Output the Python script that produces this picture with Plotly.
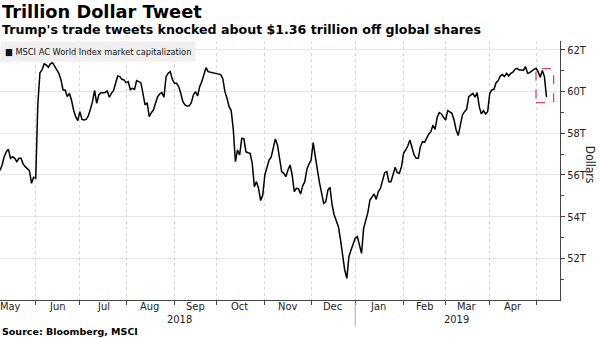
import pandas as pd
import plotly.graph_objects as go

# Trading-day number counted from 1 Jun 2018 (weekdays), and index value in $ trillions
trading_day = [
    -17, -16, -15, -14, -13, -12, -11, -10, -9, -8, -7, -6, -5, -4, -3, -2, -1, 0,
    1, 2, 3, 4, 5, 6, 7, 8, 9, 10, 11, 12, 13, 14, 15, 16, 17, 18, 19, 20,
    21, 22, 23, 24, 25, 26, 27, 28, 29, 30, 31, 32, 33, 34, 35, 36, 37, 38, 39, 40,
    41, 42, 43, 44, 45, 46, 47, 48, 49, 50, 51, 52, 53, 54, 55, 56, 57, 58, 59, 60,
    61, 62, 63, 64, 65, 66, 67, 68, 69, 70, 71, 72, 73, 74, 75, 76, 77, 78, 79, 80,
    81, 82, 83, 85, 86, 88, 89, 90, 91, 92, 93, 94, 95, 96, 97, 98, 99, 100,
    101, 102, 103, 104, 105, 106, 107, 108, 109, 110, 111, 112, 113, 114, 115, 116, 117, 118, 119, 120,
    121, 122, 123, 124, 125, 126, 127, 128, 129, 130, 131, 132, 133, 134, 135, 136, 137, 138, 139, 140,
    141, 142, 143, 144, 145, 146, 147, 148, 149, 150, 151, 152, 153, 154, 155, 156, 157, 158, 159, 160,
    161, 162, 163, 164, 165, 166, 167, 168, 169, 170, 171, 172, 173, 174, 175, 176, 177, 178, 179, 180,
    181, 182, 183, 184, 185, 186, 187, 188, 189, 190, 191, 192, 193, 194, 195, 196, 197, 198, 199, 200,
    201, 202, 203, 204, 205, 206, 207, 208, 209, 210, 211, 212, 213, 214, 215, 216, 217, 218, 219, 220,
    221, 222, 223, 224, 225, 226, 227, 228, 229, 230, 231, 232, 233, 234, 235, 236, 237, 238, 239, 240,
    241, 242, 243,
]
market_cap = [
    56.21, 56.48, 56.88, 57.12, 57.23, 56.80, 56.88, 56.80, 56.64, 56.80, 56.80, 56.53, 56.40, 56.32, 56.21, 55.60, 55.89, 55.85,
    59.40, 60.90, 61.04, 61.33, 61.28, 61.17, 61.33, 61.39, 61.23, 61.07, 60.88, 60.56, 60.08, 60.08, 59.76, 59.92, 59.60, 59.12, 58.80, 58.61,
    59.04, 58.67, 58.64, 58.67, 58.83, 59.15, 59.52, 60.06, 59.44, 59.84, 59.95, 59.95, 59.96, 60.03, 59.73, 59.92, 60.05, 60.40, 60.75, 60.72,
    60.59, 60.56, 60.43, 60.48, 60.10, 60.16, 60.11, 60.53, 60.48, 60.43, 59.92, 59.36, 59.47, 58.80, 58.99, 59.12, 59.44, 59.76, 59.89, 59.95,
    59.73, 60.72, 60.88, 60.96, 60.59, 60.40, 60.40, 60.24, 59.92, 59.52, 59.36, 59.31, 59.32, 59.47, 59.84, 60.00, 59.79, 60.24, 60.48, 60.88,
    61.15, 60.96, 60.94, 60.91, 60.88, 60.82, 60.62, 60.00, 59.68, 59.28, 59.09, 58.16, 56.64, 57.20, 56.96, 57.76, 57.74, 57.12,
    57.07, 57.04, 56.56, 55.44, 55.68, 55.36, 54.77, 55.04, 56.00, 56.40, 56.72, 56.85, 57.28, 57.73, 57.44, 56.72, 56.16, 56.08, 55.92, 56.24,
    56.48, 56.00, 55.20, 55.36, 55.34, 55.09, 55.47, 55.68, 56.27, 56.53, 56.72, 57.55, 56.80, 56.24, 55.63, 55.12, 54.64, 54.72, 55.28, 55.41,
    54.56, 54.08, 53.84, 53.52, 52.88, 52.16, 51.44, 51.04, 52.08, 52.40, 52.69, 52.96, 53.04, 52.64, 52.24, 53.44, 53.76, 54.19, 54.80, 54.96,
    55.09, 54.83, 55.20, 55.36, 55.76, 56.11, 56.16, 55.68, 55.68, 56.08, 56.37, 56.11, 56.08, 56.40, 57.04, 57.20, 57.39, 57.68, 57.33, 56.96,
    56.80, 56.80, 57.36, 57.60, 57.57, 57.76, 57.97, 58.08, 58.40, 58.19, 58.77, 58.99, 58.93, 58.77, 58.64, 59.09, 59.04, 58.96, 58.64, 58.16,
    57.89, 58.40, 58.88, 59.04, 59.15, 59.76, 59.84, 59.92, 59.73, 59.95, 59.28, 58.93, 59.09, 58.93, 59.04, 59.92, 60.08, 60.11, 60.43, 60.53,
    60.75, 60.82, 60.72, 60.88, 60.75, 60.88, 60.93, 61.07, 61.12, 61.04, 61.04, 61.02, 61.20, 60.88, 60.91, 61.01, 61.07, 61.12, 60.96, 60.69,
    61.01, 60.72, 59.73,
]

series_name = "MSCI AC World Index market capitalization"
title_text = "Trillion Dollar Tweet"
subtitle_text = "Trump's trade tweets knocked about $1.36 trillion off global shares"
source_text = "Source: Bloomberg, MSCI"
year_labels = ["2018", "2019"]
month_labels = ["May", "Jun", "Jul", "Aug", "Sep", "Oct", "Nov", "Dec",
                "Jan", "Feb", "Mar", "Apr"]
y_tick_values = [52, 54, 56, 58, 60, 62]
y_tick_text = [f"{v}T" for v in y_tick_values]
y_minor_values = [51, 53, 55, 57, 59, 61]
x_range = ["2018-05-09", "2019-05-16 10:00"]
y_range = [50, 62.43]
highlight_x = ["2019-05-01", "2019-05-13 09:00"]
highlight_y = [59.47, 61.10]

weekdays = pd.bdate_range("2018-05-01", "2019-06-28")
first_day_pos = list(weekdays).index(pd.Timestamp("2018-06-01"))
dates = [weekdays[d + first_day_pos] for d in trading_day]

month_starts = pd.date_range("2018-05-01", periods=len(month_labels) + 1, freq="MS")
# month label sits on the middle weekday of each month
month_mid = []
for m in month_starts[:len(month_labels)]:
    days = [d for d in weekdays if d.year == m.year and d.month == m.month]
    month_mid.append(days[len(days) // 2])

FONT = "DejaVu Sans Condensed, DejaVu Sans, sans-serif"
BOLD = "DejaVu Sans, sans-serif"
AXIS_COLOR = "#444"

fig = go.Figure()
fig.add_trace(go.Scatter(
    x=dates, y=market_cap, mode="lines", name=series_name,
    line=dict(color="#000000", width=1.5), showlegend=False,
))

fig.update_layout(
    width=600, height=338,
    margin=dict(l=0, r=40, t=41, b=38),
    paper_bgcolor="white", plot_bgcolor="white",
    font=dict(family=FONT, size=11, color="#222"),
    xaxis=dict(
        type="date", range=x_range,
        rangebreaks=[dict(bounds=["sat", "mon"])],
        tick0="2018-05-01", dtick="M1",
        showticklabels=False,
        ticks="outside", ticklen=4, tickcolor=AXIS_COLOR,
        showgrid=True, gridcolor="#d4d4d4", griddash="dot", gridwidth=1,
        showline=True, linecolor=AXIS_COLOR, linewidth=1,
        zeroline=False,
    ),
    yaxis=dict(
        side="right", range=y_range,
        tickmode="array", tickvals=y_tick_values, ticktext=y_tick_text,
        ticks="outside", ticklen=4, tickcolor=AXIS_COLOR,
        minor=dict(tickmode="array", tickvals=y_minor_values, ticks="outside", ticklen=3,
                   tickcolor=AXIS_COLOR, showgrid=False),
        showgrid=True, gridcolor="#e6e6e6", gridwidth=1,
        showline=True, linecolor=AXIS_COLOR, linewidth=1,
        tickfont=dict(family=FONT, size=11, color="#222"),
        zeroline=False,
    ),
)

# month names centred in each month
for d, lab in zip(month_mid, month_labels):
    fig.add_annotation(x=d, y=-0.027, xref="x", yref="paper", xanchor="center", yanchor="middle",
                       text=lab, showarrow=False, font=dict(family=FONT, size=11, color="#222"))

# Highlight box around the final sell-off
fig.add_shape(type="rect", xref="x", yref="y",
              x0=highlight_x[0], x1=highlight_x[1], y0=highlight_y[0], y1=highlight_y[1],
              line=dict(color="#e0436a", width=1.3, dash="dash"), fillcolor="rgba(0,0,0,0)")

# year separator below the axis
fig.add_shape(type="line", xref="x", yref="paper", x0="2019-01-01", x1="2019-01-01",
              y0=-0.01, y1=-0.1, line=dict(color="#aaaaaa", width=1))

fig.add_annotation(x=0, y=1.114, xref="paper", yref="paper", xanchor="left", yanchor="middle",
                   text="<b>" + title_text + "</b>", showarrow=False,
                   font=dict(family=BOLD, size=17.8, color="#000"))
fig.add_annotation(x=0, y=1.046, xref="paper", yref="paper", xanchor="left", yanchor="middle",
                   text="<b>" + subtitle_text + "</b>", showarrow=False,
                   font=dict(family=BOLD, size=12.6, color="#000"))
fig.add_annotation(x=0, y=1.0, xref="paper", yref="paper", xanchor="left", yanchor="top",
                   text="■ " + series_name, showarrow=False, bgcolor="#efefef", borderpad=4,
                   font=dict(family=FONT, size=9.2, color="#111"))
fig.add_annotation(x=0.321, y=-0.075, xref="paper", yref="paper", xanchor="center", yanchor="middle",
                   text=year_labels[0], showarrow=False, font=dict(family=FONT, size=11, color="#222"))
fig.add_annotation(x=0.816, y=-0.075, xref="paper", yref="paper", xanchor="center", yanchor="middle",
                   text=year_labels[1], showarrow=False, font=dict(family=FONT, size=11, color="#222"))
fig.add_annotation(x=0, y=-0.12, xref="paper", yref="paper", xanchor="left", yanchor="middle",
                   text="<b>" + source_text + "</b>", showarrow=False,
                   font=dict(family=BOLD, size=9.5, color="#000"))
fig.add_annotation(x=1.054, y=0.521, xref="paper", yref="paper", xanchor="center", yanchor="middle",
                   text="Dollars", textangle=90, showarrow=False,
                   font=dict(family=FONT, size=12, color="#222"))

fig.write_html("out.html")
